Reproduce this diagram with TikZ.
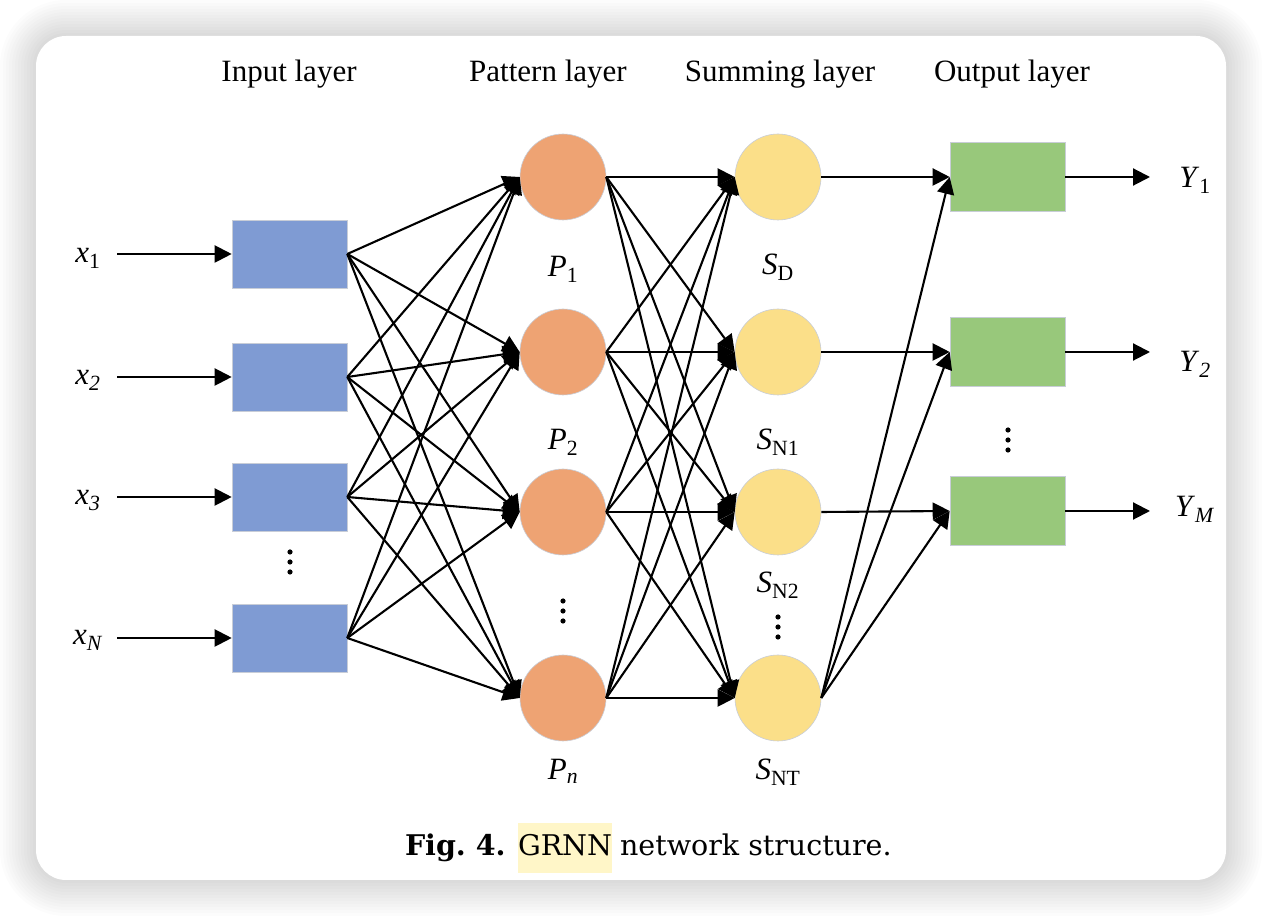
\documentclass[tikz,border=0pt]{standalone}
\usepackage{fontspec}
\setmainfont{Liberation Serif}
\newfontfamily\capfamily{DejaVu Serif}
\usetikzlibrary{arrows.meta,positioning}

\newcommand{\varlab}[2]{\textit{#1}\textsubscript{#2}}

\begin{document}
\begin{tikzpicture}[x=1pt,y=1pt,
  lbl/.style={text=black,inner sep=0pt,outer sep=0pt,font=\fontsize{31}{37}\selectfont},
  caplbl/.style={text=black,inner sep=0pt,outer sep=0pt,font=\capfamily\fontsize{28.5}{34}\selectfont},
  conn/.style={draw=black,line width=2.1pt,-{Triangle[length=17pt,width=17pt]}},
  inbox/.style={draw=edgeColor,line width=0.6pt,fill=inColor,minimum width=115pt,minimum height=68pt,inner sep=0pt},
  outbox/.style={draw=edgeColor,line width=0.6pt,fill=outColor,minimum width=115pt,minimum height=69pt,inner sep=0pt},
  patnode/.style={circle,draw=edgeColor,line width=0.6pt,fill=patColor,minimum size=86pt,inner sep=0pt},
  sumnode/.style={circle,draw=edgeColor,line width=0.6pt,fill=sumColor,minimum size=86pt,inner sep=0pt}]
\definecolor{inColor}{RGB}{127,155,211}
\definecolor{patColor}{RGB}{238,163,115}
\definecolor{sumColor}{RGB}{251,223,137}
\definecolor{outColor}{RGB}{152,200,123}
\definecolor{edgeColor}{RGB}{200,205,215}
\definecolor{markColor}{RGB}{255,246,200}

\useasboundingbox (0,0) rectangle (1262,916);
\fill[white] (0,0) rectangle (1262,916);

% card and its shadow
\foreach \k [evaluate=\k as \r using 30+3*\k] in {1,...,12}
  \fill[black,opacity=0.01,rounded corners=\r pt] (36-3*\k,36-3*\k) rectangle (1226+3*\k,880+3*\k);
\fill[white,rounded corners=30pt] (36,36) rectangle (1226,880);

% layer titles
\node[lbl,anchor=base] (tin) at (289,834) {Input layer};
\node[lbl,anchor=base] (tpat) at (548,834) {Pattern layer};
\node[lbl,anchor=base] (tsum) at (780,834) {Summing layer};
\node[lbl,anchor=base] (tout) at (1012,834) {Output layer};

% input layer
\node[inbox] (in1) at (289.5,662) {};
\node[inbox] (in2) at (289.5,539) {};
\node[inbox] (in3) at (289.5,419) {};
\node[inbox] (inN) at (289.5,278) {};

\coordinate (xs1) at (117,662);
\coordinate (xs2) at (117,539);
\coordinate (xs3) at (117,419);
\coordinate (xsN) at (117,278);

\node[lbl,anchor=base] (lx1) at (88,653) {\varlab{x}{1}};
\node[lbl,anchor=base] (lx2) at (88,531) {\varlab{x}{\textit{2}}};
\node[lbl,anchor=base] (lx3) at (88,411) {\varlab{x}{\textit{3}}};
\node[lbl,anchor=base] (lxN) at (88,271) {\varlab{x}{\textit{N}}};

\fill (290,364) circle (2.6pt);
\fill (290,354) circle (2.6pt);
\fill (290,344) circle (2.6pt);

% pattern layer
\node[patnode] (pat1) at (563,739) {};
\node[patnode] (pat2) at (563,564) {};
\node[patnode] (pat3) at (563,404) {};
\node[patnode] (patn) at (563,218) {};

\node[lbl,anchor=base] (lP1) at (563,639) {\varlab{P}{1}};
\node[lbl,anchor=base] (lP2) at (563,466) {\varlab{P}{2}};
\node[lbl,anchor=base] (lPn) at (563,136) {\varlab{P}{\textit{n}}};

\fill (563,315) circle (2.6pt);
\fill (563,305) circle (2.6pt);
\fill (563,295) circle (2.6pt);

% summing layer
\node[sumnode] (sD) at (778,739) {};
\node[sumnode] (sN1) at (778,564) {};
\node[sumnode] (sN2) at (778,404) {};
\node[sumnode] (sNT) at (778,218) {};

\node[lbl,anchor=base] (lsD) at (778,641) {\varlab{S}{D}};
\node[lbl,anchor=base] (lsN1) at (778,466) {\varlab{S}{N1}};
\node[lbl,anchor=base] (lsN2) at (778,323) {\varlab{S}{N2}};
\node[lbl,anchor=base] (lsNT) at (778,136) {\varlab{S}{NT}};

\fill (778,299) circle (2.6pt);
\fill (778,289) circle (2.6pt);
\fill (778,279) circle (2.6pt);

% output layer
\node[outbox] (out1) at (1007.5,739) {};
\node[outbox] (out2) at (1007.5,564) {};
\node[outbox] (outM) at (1007.5,405) {};

\coordinate (ye1) at (1150,739);
\coordinate (ye2) at (1150,564);
\coordinate (yeM) at (1150,405);

\node[lbl,anchor=base] (ly1) at (1195,728) {\varlab{Y}{1}};
\node[lbl,anchor=base] (ly2) at (1195,544) {\varlab{Y}{\textit{2}}};
\node[lbl,anchor=base] (lyM) at (1195,399) {\varlab{Y}{\textit{M}}};

\fill (1008,486) circle (2.6pt);
\fill (1008,476) circle (2.6pt);
\fill (1008,466) circle (2.6pt);

% inputs
\draw[conn] (xs1) -- (in1.west);
\draw[conn] (xs2) -- (in2.west);
\draw[conn] (xs3) -- (in3.west);
\draw[conn] (xsN) -- (inN.west);

% input to pattern
\draw[conn] (in1.east) -- (pat1.west);
\draw[conn] (in1.east) -- (pat2.west);
\draw[conn] (in1.east) -- (pat3.west);
\draw[conn] (in1.east) -- (patn.west);
\draw[conn] (in2.east) -- (pat1.west);
\draw[conn] (in2.east) -- (pat2.west);
\draw[conn] (in2.east) -- (pat3.west);
\draw[conn] (in2.east) -- (patn.west);
\draw[conn] (in3.east) -- (pat1.west);
\draw[conn] (in3.east) -- (pat2.west);
\draw[conn] (in3.east) -- (pat3.west);
\draw[conn] (in3.east) -- (patn.west);
\draw[conn] (inN.east) -- (pat1.west);
\draw[conn] (inN.east) -- (pat2.west);
\draw[conn] (inN.east) -- (pat3.west);
\draw[conn] (inN.east) -- (patn.west);

% pattern to summing
\draw[conn] (pat1.east) -- (sD.west);
\draw[conn] (pat1.east) -- (sN1.west);
\draw[conn] (pat1.east) -- (sN2.west);
\draw[conn] (pat1.east) -- (sNT.west);
\draw[conn] (pat2.east) -- (sD.west);
\draw[conn] (pat2.east) -- (sN1.west);
\draw[conn] (pat2.east) -- (sN2.west);
\draw[conn] (pat2.east) -- (sNT.west);
\draw[conn] (pat3.east) -- (sD.west);
\draw[conn] (pat3.east) -- (sN1.west);
\draw[conn] (pat3.east) -- (sN2.west);
\draw[conn] (pat3.east) -- (sNT.west);
\draw[conn] (patn.east) -- (sD.west);
\draw[conn] (patn.east) -- (sN1.west);
\draw[conn] (patn.east) -- (sN2.west);
\draw[conn] (patn.east) -- (sNT.west);

% summing to output
\draw[conn] (sD.east) -- (out1.west);
\draw[conn] (sN1.east) -- (out2.west);
\draw[conn] (sN2.east) -- (outM.west);
\draw[conn] (sNT.east) -- (out1.west);
\draw[conn] (sNT.east) -- (out2.west);
\draw[conn] (sNT.east) -- (outM.west);

% outputs
\draw[conn] (out1.east) -- (ye1);
\draw[conn] (out2.east) -- (ye2);
\draw[conn] (outM.east) -- (yeM);

% caption
\node[caplbl,anchor=base west] (figno) at (405,60) {\bfseries Fig.~4.};
\node[caplbl,anchor=base west,fill=markColor,inner xsep=0pt,text height=33pt,text depth=17pt] (grnn) at (518,60) {GRNN};
\node[caplbl,anchor=base west] (captxt) at ([xshift=8pt]grnn.base east) {network structure.};
\end{tikzpicture}
\end{document}
